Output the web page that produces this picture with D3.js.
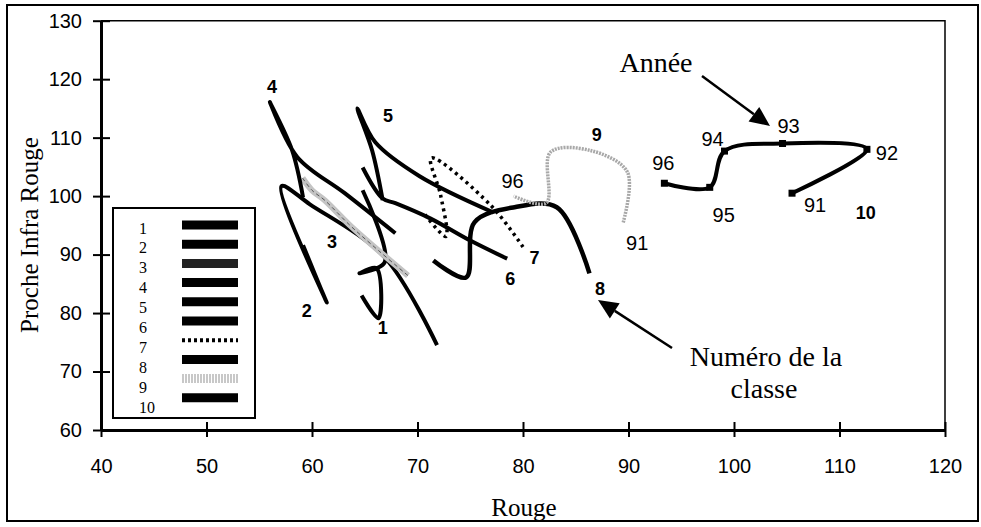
<!DOCTYPE html>
<html><head><meta charset="utf-8">
<script src="https://cdn.jsdelivr.net/npm/d3@7"></script>
<style>body{margin:0;background:#fff}svg{display:block}</style>
</head><body>
<svg id="c" width="981" height="527"></svg>
<script>
// ---- data ----
const xTicks = [40,50,60,70,80,90,100,110,120];
const yTicks = [60,70,80,90,100,110,120,130];
const classNames = ["1","2","3","4","5","6","7","8","9","10"];
const years = ["91","92","93","94","95","96"];
// trajectories (Rouge, Proche Infra Rouge), one point per year 91..96
const class1 = [[64.7,83.0],[66.3,79.1],[66.1,87.7],[64.5,86.8],[66.9,88.7],[64.8,101.0]];
const class2 = [[59.15,91.6],[61.4,81.8],[57.1,101.7],[59.8,98.6],[66.9,89.5],[71.85,74.5]];
const class3 = [[59.1,103.1],[60.0,101.0],[61.2,99.3],[63.6,95.0],[66.3,90.7],[69.1,86.4]];
const class4 = [[67.9,93.65],[63.1,100.5],[58.6,106.7],[56.0,116.1],[58.1,107.9],[59.15,99.8]];
const class5 = [[66.7,99.3],[65.7,107.8],[64.3,115.0],[66.0,109.2],[70.2,103.4],[77.2,97.2]];
const class6 = [[78.5,89.3],[75.0,92.4],[71.2,96.2],[67.9,98.8],[66.7,99.6],[64.8,104.9]];
const class7 = [[80.0,91.3],[76.9,98.5],[71.3,106.5],[72.2,100.1],[72.7,93.1],[70.6,97.1]];
const class8 = [[71.5,89.0],[74.6,86.1],[75.4,95.5],[79.2,98.1],[83.2,98.1],[86.3,86.8]];
const class9 = [[89.5,95.5],[89.9,104.1],[86.4,107.8],[82.6,107.5],[82.2,98.8],[79.1,100.0]];
const class10 = [[105.5,100.5],[112.6,108.0],[104.6,109.0],[99.1,107.7],[97.7,101.5],[93.4,102.2]];
const classLabelPos = [[66.7,77.5],[59.5,80.3],[61.9,92.1],[56.2,118.6],[67.2,113.7],[78.8,85.8],[81.1,89.4],[87.3,84.1],[87.0,110.4],[112.5,97.1]];
const yearLabelsClass10 = ["91","92","93","94","95","96"];
const yearLabelsClass9 = ["91","96"];

// ---- setup ----
const svg = d3.select("#c");
const sans = "'Liberation Sans', Arial, sans-serif";
const serif = "'Liberation Serif', 'Times New Roman', serif";
const x = d3.scaleLinear().domain([40,120]).range([101,945]);
const y = d3.scaleLinear().domain([60,130]).range([430,20.7]);

// outer frame
svg.append("rect").attr("x",7).attr("y",5).attr("width",971).attr("height",516)
  .attr("fill","none").attr("stroke","#000").attr("stroke-width",2);
// plot box top/right
svg.append("path").attr("d",`M${x(40)},${y(130)}H${x(120)}V${y(60)}`)
  .attr("fill","none").attr("stroke","#000").attr("stroke-width",1.5);

// axes
const gy = svg.append("g").attr("transform",`translate(${x(40)},0)`)
  .call(d3.axisLeft(y).tickValues(yTicks).tickSizeInner(8).tickSizeOuter(0).tickPadding(11));
gy.selectAll(".tick").append("line").attr("x1",0).attr("x2",9).attr("stroke","#000");
const gx = svg.append("g").attr("transform",`translate(0,${y(60)})`)
  .call(d3.axisBottom(x).tickValues(xTicks).tickSizeInner(7).tickSizeOuter(0).tickPadding(22));
gx.selectAll(".tick").append("line").attr("y1",0).attr("y2",-8).attr("stroke","#000");
[gx,gy].forEach(g=>{
  g.select(".domain").attr("stroke","#000").attr("stroke-width",3);
  g.selectAll(".tick line").attr("stroke","#000").attr("stroke-width",2);
  g.selectAll(".tick text").attr("font-family",sans).attr("font-size",20).attr("fill","#000");
});

// axis titles
svg.append("text").attr("x",524).attr("y",516).attr("text-anchor","middle")
  .attr("font-family",serif).attr("font-size",25).text("Rouge");
svg.append("text").attr("transform","translate(38,235) rotate(-90)").attr("text-anchor","middle")
  .attr("font-family",serif).attr("font-size",25).text("Proche Infra Rouge");

// lines
const line = d3.line().x(d=>x(d[0])).y(d=>y(d[1])).curve(d3.curveCatmullRom.alpha(0.5));
const plotG = svg.append("g");
const allClasses = [class1,class2,class3,class4,class5,class6,class7,class8,class9,class10];
const styles = [
  {s:"#000",w:4},{s:"#000",w:4},{s:"#c4c4c4",w:6,extra:true},{s:"#000",w:4},{s:"#000",w:4},
  {s:"#000",w:4},{s:"#000",w:3.5,dash:"3,4"},{s:"#000",w:4.5},{s:"#a8a8a8",w:3.5,dash:"2,1"},{s:"#000",w:4}
];
allClasses.forEach((c,i)=>{
  const st = styles[i];
  const p = plotG.append("path").attr("d",line(c)).attr("fill","none")
    .attr("stroke",st.s).attr("stroke-width",st.w).attr("stroke-linecap","butt").attr("stroke-linejoin","round");
  if(st.dash) p.attr("stroke-dasharray",st.dash);
  if(st.extra){
    plotG.append("path").attr("d",line(c)).attr("fill","none")
      .attr("stroke","#555").attr("stroke-width",1).attr("stroke-dasharray","4,3");
  }
});
// class 10 markers
plotG.selectAll("rect.m").data(class10).join("rect").attr("class","m")
  .attr("x",d=>x(d[0])-3.5).attr("y",d=>y(d[1])-3.5).attr("width",7).attr("height",7).attr("fill","#000");

// class labels
svg.selectAll("text.cl").data(classNames).join("text").attr("class","cl")
  .attr("x",(d,i)=>x(classLabelPos[i][0])).attr("y",(d,i)=>y(classLabelPos[i][1]))
  .attr("text-anchor","middle").attr("dominant-baseline","central")
  .attr("font-family",sans).attr("font-weight","bold").attr("font-size",18).text(d=>d);

// year labels class 10
const off10 = [[23,12],[20,4],[6,-17],[-12,-12],[14,28],[-1,-20]];
svg.selectAll("text.y10").data(yearLabelsClass10).join("text").attr("class","y10")
  .attr("x",(d,i)=>x(class10[i][0])+off10[i][0]).attr("y",(d,i)=>y(class10[i][1])+off10[i][1])
  .attr("text-anchor","middle").attr("dominant-baseline","central")
  .attr("font-family",sans).attr("font-size",20).text(d=>d);
// year labels class 9 (91 first point, 96 last point)
const idx9 = [0,5], off9 = [[14,21],[-1,-15]];
svg.selectAll("text.y9").data(yearLabelsClass9).join("text").attr("class","y9")
  .attr("x",(d,i)=>x(class9[idx9[i]][0])+off9[i][0]).attr("y",(d,i)=>y(class9[idx9[i]][1])+off9[i][1])
  .attr("text-anchor","middle").attr("dominant-baseline","central")
  .attr("font-family",sans).attr("font-size",20).text(d=>d);

// annotations with arrows
function arrow(x1,y1,x2,y2){
  const a = Math.atan2(y2-y1,x2-x1), L=20, Wd=9;
  const bx = x2-L*Math.cos(a), by = y2-L*Math.sin(a);
  svg.append("line").attr("x1",x1).attr("y1",y1).attr("x2",bx).attr("y2",by)
    .attr("stroke","#000").attr("stroke-width",2.5);
  const px = -Math.sin(a)*Wd, py = Math.cos(a)*Wd;
  svg.append("path").attr("d",`M${x2},${y2}L${bx+px},${by+py}L${bx-px},${by-py}Z`).attr("fill","#000");
}
svg.append("text").attr("x",656).attr("y",72).attr("text-anchor","middle")
  .attr("font-family",serif).attr("font-size",28).text("Année");
arrow(702,76,770,126);
svg.append("text").attr("x",766).attr("y",366).attr("text-anchor","middle")
  .attr("font-family",serif).attr("font-size",28).text("Numéro de la");
svg.append("text").attr("x",764).attr("y",398).attr("text-anchor","middle")
  .attr("font-family",serif).attr("font-size",28).text("classe");
arrow(672,348,598,300);

// legend
const lg = svg.append("g");
lg.append("rect").attr("x",113).attr("y",208).attr("width",142).attr("height",210)
  .attr("fill","#fff").attr("stroke","#000").attr("stroke-width",2);
classNames.forEach((n,i)=>{
  lg.append("text").attr("x",139).attr("y",228+i*19.9).attr("dominant-baseline","central")
    .attr("font-family",serif).attr("font-size",16).text(n);
  const st = styles[i];
  const yy = 225+i*19.2;
  const l = lg.append("line").attr("x1",182).attr("x2",238).attr("y1",yy).attr("y2",yy)
    .attr("stroke",i===2?"#222":st.s).attr("stroke-width",i===6?4:9);
  if(i===6) l.attr("stroke-dasharray","3,3");
  if(i===8) l.attr("stroke","#c8c8c8").attr("stroke-dasharray","2,1");
});
</script>
</body></html>
